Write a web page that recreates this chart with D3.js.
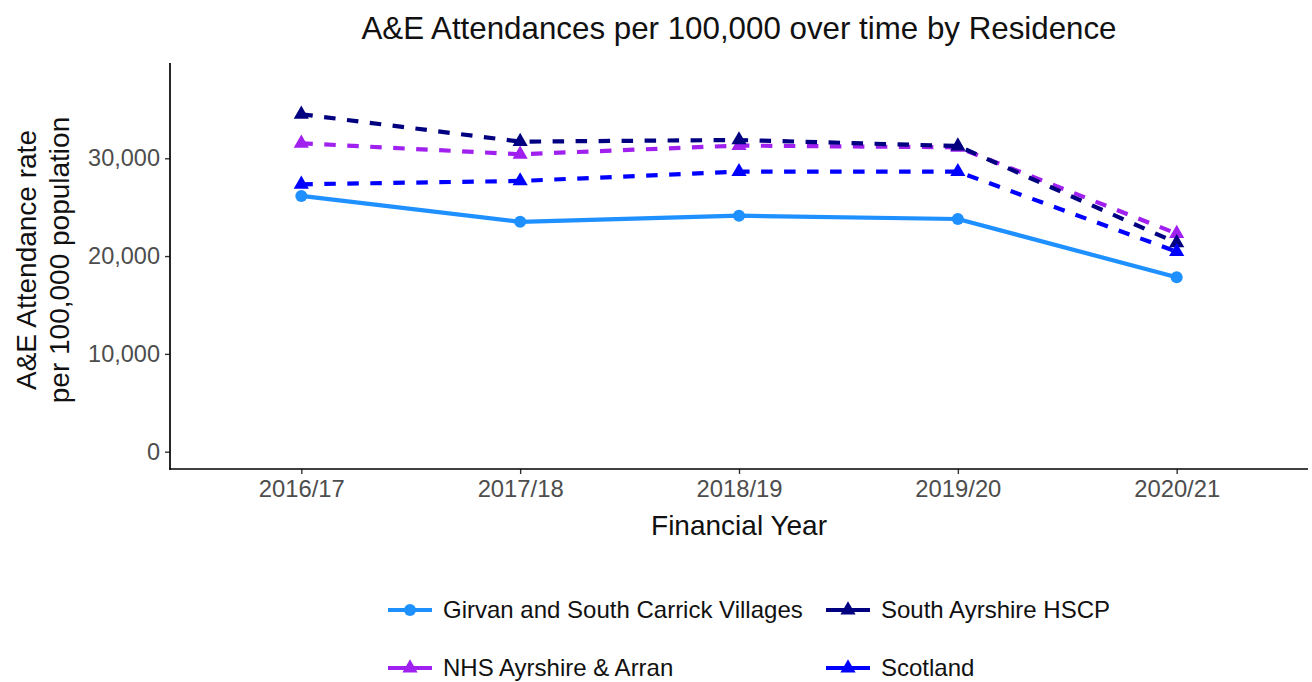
<!DOCTYPE html>
<html>
<head>
<meta charset="utf-8">
<script src="https://cdn.jsdelivr.net/npm/d3@7"></script>
<style>
  html, body { margin: 0; padding: 0; background: #fff; }
  svg { display: block; font-family: "Liberation Sans", Arial, Helvetica, sans-serif; }
</style>
</head>
<body>
<svg id="chart" width="1312" height="682"></svg>
<script>
// ---- data ----
const years = ["2016/17", "2017/18", "2018/19", "2019/20", "2020/21"];
const girvan = [26150, 23500, 24130, 23790, 17830];
const nhsAyrshire = [31530, 30410, 31300, 31120, 22300];
const southAyrshire = [34500, 31700, 31870, 31250, 21350];
const scotland = [27340, 27680, 28630, 28630, 20450];
const seriesNames = ["Girvan and South Carrick Villages", "NHS Ayrshire & Arran", "South Ayrshire HSCP", "Scotland"];
const yTicks = [0, 10000, 20000, 30000];
const yLimits = [-1770, 39740];

// ---- styles ----
const styles = {
  "Girvan and South Carrick Villages": { color: "#1E90FF", dash: null, shape: "circle" },
  "NHS Ayrshire & Arran": { color: "#A020F0", dash: "11.5 11.5", shape: "triangle" },
  "South Ayrshire HSCP": { color: "#000080", dash: "11.5 11.5", shape: "triangle" },
  "Scotland": { color: "#0000FF", dash: "11.5 11.5", shape: "triangle" }
};
const seriesValues = [girvan, nhsAyrshire, southAyrshire, scotland];
const series = seriesNames.map((name, i) => ({
  name, values: years.map((y, j) => ({ year: y, value: seriesValues[i][j] }))
}));

const svg = d3.select("#chart");
const panel = { left: 170, right: 1308, top: 63, bottom: 469 };

const x = d3.scalePoint().domain(years).range([panel.left, panel.right]).padding(0.6);
const y = d3.scaleLinear().domain(yLimits).range([panel.bottom, panel.top]);

// title
svg.append("text")
  .attr("x", (panel.left + panel.right) / 2).attr("y", 39)
  .attr("text-anchor", "middle").attr("font-size", 31.3).attr("fill", "#111")
  .text("A&E Attendances per 100,000 over time by Residence");

// axes
const yAxis = d3.axisLeft(y).tickValues(yTicks).tickSize(5).tickPadding(5)
  .tickFormat(d3.format(","));
const gy = svg.append("g").attr("transform", `translate(${panel.left},0)`).call(yAxis);
gy.select(".domain").remove();
gy.selectAll(".tick line").attr("stroke", "#333").attr("stroke-width", 1.4);
gy.selectAll(".tick text").attr("font-size", 23.5).attr("fill", "#4d4d4d")
  .attr("font-family", "Liberation Sans, Arial, sans-serif");

const xAxis = d3.axisBottom(x).tickSize(5).tickPadding(6);
const gx = svg.append("g").attr("transform", `translate(0,${panel.bottom})`).call(xAxis);
gx.select(".domain").remove();
gx.selectAll(".tick line").attr("stroke", "#333").attr("stroke-width", 1.4);
gx.selectAll(".tick text").attr("font-size", 23.8).attr("fill", "#4d4d4d")
  .attr("font-family", "Liberation Sans, Arial, sans-serif");

// axis lines
svg.append("line").attr("x1", panel.left).attr("x2", panel.left)
  .attr("y1", panel.top).attr("y2", panel.bottom + 0.8)
  .attr("stroke", "#000").attr("stroke-width", 1.7);
svg.append("line").attr("x1", panel.left - 0.8).attr("x2", panel.right)
  .attr("y1", panel.bottom).attr("y2", panel.bottom)
  .attr("stroke", "#000").attr("stroke-width", 1.7);

// axis titles
svg.append("text")
  .attr("x", (panel.left + panel.right) / 2).attr("y", 535)
  .attr("text-anchor", "middle").attr("font-size", 28).attr("fill", "#111")
  .text("Financial Year");
const yt = svg.append("text")
  .attr("transform", `translate(0,${(panel.top + panel.bottom) / 2 - 6}) rotate(-90)`)
  .attr("text-anchor", "middle").attr("font-size", 28).attr("fill", "#111");
yt.append("tspan").attr("x", 0).attr("y", 36).text("A&E Attendance rate");
yt.append("tspan").attr("x", 0).attr("y", 69).text("per 100,000 population");

// lines
const line = d3.line().x(d => x(d.year)).y(d => y(d.value));
svg.append("g").selectAll("path").data(series).join("path")
  .attr("d", d => line(d.values))
  .attr("fill", "none")
  .attr("stroke", d => styles[d.name].color)
  .attr("stroke-width", 4.2)
  .attr("stroke-dasharray", d => styles[d.name].dash)
  .attr("stroke-linejoin", "round");

// points
const triSym = d3.symbol().type(d3.symbolTriangle).size(100);
function drawMarker(g, name, cx, cy) {
  const st = styles[name];
  if (st.shape === "circle") {
    g.append("circle").attr("cx", cx).attr("cy", cy).attr("r", 6).attr("fill", st.color);
  } else {
    g.append("path").attr("d", triSym()).attr("transform", `translate(${cx},${cy})`).attr("fill", st.color);
  }
}
const gp = svg.append("g");
series.forEach(s => s.values.forEach(d => drawMarker(gp, s.name, x(d.year), y(d.value))));

// legend
const legendPos = [
  { name: seriesNames[0], kx: 388, ty: 610 },
  { name: seriesNames[1], kx: 388, ty: 668 },
  { name: seriesNames[2], kx: 826, ty: 610 },
  { name: seriesNames[3], kx: 826, ty: 668 }
];
const gl = svg.append("g");
legendPos.forEach(p => {
  const st = styles[p.name];
  gl.append("line").attr("x1", p.kx).attr("x2", p.kx + 44)
    .attr("y1", p.ty).attr("y2", p.ty)
    .attr("stroke", st.color).attr("stroke-width", 4.2);
  drawMarker(gl, p.name, p.kx + 22, p.ty);
  gl.append("text").attr("x", p.kx + 55).attr("y", p.ty)
    .attr("dy", "0.35em").attr("font-size", 24).attr("fill", "#111")
    .text(p.name);
});
</script>
</body>
</html>
